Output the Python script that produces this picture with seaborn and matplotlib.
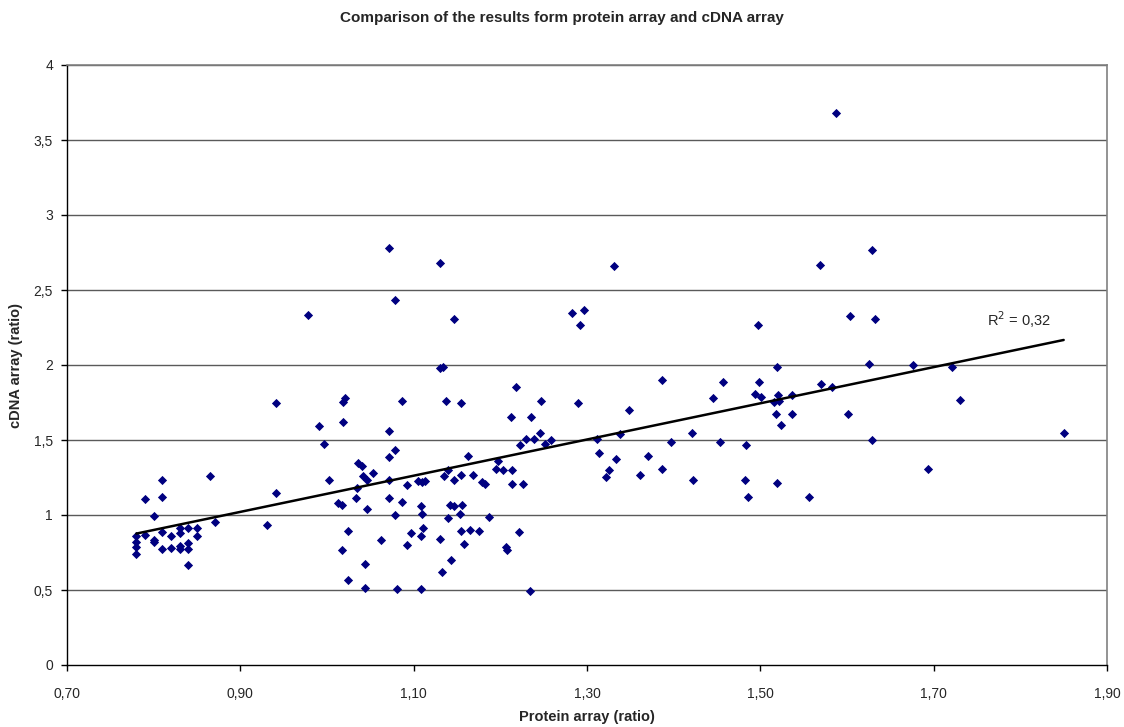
import numpy as np
import pandas as pd
import matplotlib
matplotlib.use("Agg")
import matplotlib.pyplot as plt
import seaborn as sns

# values
protein = [
    0.780, 0.780, 0.780, 0.780, 0.790, 0.790, 0.800, 0.800, 0.800, 0.810,
    0.810, 0.810, 0.810, 0.820, 0.820, 0.830, 0.830, 0.830, 0.830, 0.840,
    0.840, 0.840, 0.840, 0.850, 0.850, 0.865, 0.871, 0.931, 0.941, 0.941,
    0.978, 1.072, 1.079, 1.130, 1.147, 1.130, 1.134, 1.218, 1.283, 1.296,
    1.292,
    0.991, 0.996, 1.018, 1.021, 1.018, 1.086, 1.137, 1.155, 1.072, 1.078,
    1.072, 1.002, 1.036, 1.040, 1.053, 1.042, 1.046, 1.035, 1.071, 1.092,
    1.105, 1.110, 1.113, 1.135, 1.140, 1.147, 1.155, 1.163, 1.168, 1.179,
    1.182, 1.195, 1.197, 1.013, 1.017, 1.033, 1.046, 1.071, 1.086, 1.079,
    1.108, 1.110, 1.142, 1.147, 1.156, 1.154, 1.140, 1.187, 1.024, 1.097,
    1.111, 1.108, 1.130, 1.155, 1.165, 1.175, 1.158, 1.092, 1.062, 1.017,
    1.044, 1.143, 1.133, 1.024, 1.044, 1.081, 1.108,
    1.247, 1.290, 1.349, 1.387, 1.212, 1.235, 1.246, 1.230, 1.239, 1.223,
    1.252, 1.258, 1.203, 1.214, 1.214, 1.226, 1.312, 1.314, 1.338, 1.334,
    1.325, 1.322, 1.370, 1.361, 1.386, 1.397, 1.221, 1.206, 1.208, 1.234,
    1.331, 1.569, 1.629, 1.497, 1.604, 1.632, 1.519, 1.625, 1.457, 1.499,
    1.570, 1.583, 1.445, 1.494, 1.501, 1.520, 1.536, 1.516, 1.522, 1.518,
    1.537, 1.601, 1.524, 1.421, 1.453, 1.484, 1.629, 1.422, 1.482, 1.519,
    1.486, 1.556,
    1.587, 1.676, 1.721, 1.730, 1.850, 1.693,
]
cdna = [
    0.862, 0.822, 0.789, 0.738, 1.109, 0.867, 0.991, 0.833, 0.818, 1.233,
    1.122, 0.889, 0.771, 0.862, 0.780, 0.911, 0.882, 0.793, 0.771, 0.911,
    0.813, 0.771, 0.669, 0.911, 0.862, 1.260, 0.951, 0.931, 1.144, 1.747,
    2.336, 2.778, 2.433, 2.682, 2.309, 1.978, 1.984, 1.856, 2.344, 2.364,
    2.267,
    1.593, 1.476, 1.756, 1.778, 1.620, 1.758, 1.758, 1.747, 1.558, 1.433,
    1.387, 1.236, 1.349, 1.324, 1.282, 1.262, 1.236, 1.178, 1.236, 1.200,
    1.229, 1.222, 1.229, 1.262, 1.302, 1.233, 1.269, 1.391, 1.269, 1.220,
    1.204, 1.309, 1.360, 1.082, 1.067, 1.116, 1.040, 1.111, 1.089, 1.000,
    1.062, 1.004, 1.067, 1.062, 1.067, 1.004, 0.978, 0.987, 0.896, 0.882,
    0.911, 0.862, 0.840, 0.896, 0.902, 0.896, 0.807, 0.800, 0.833, 0.764,
    0.676, 0.702, 0.620, 0.567, 0.516, 0.509, 0.509,
    1.758, 1.744, 1.702, 1.900, 1.656, 1.656, 1.544, 1.509, 1.509, 1.467,
    1.476, 1.502, 1.302, 1.302, 1.204, 1.204, 1.509, 1.413, 1.538, 1.371,
    1.302, 1.253, 1.391, 1.269, 1.309, 1.489, 0.887, 0.784, 0.764, 0.491,
    2.660, 2.667, 2.767, 2.267, 2.329, 2.309, 1.984, 2.004, 1.889, 1.889,
    1.873, 1.853, 1.778, 1.807, 1.784, 1.798, 1.800, 1.756, 1.762, 1.676,
    1.676, 1.676, 1.600, 1.544, 1.489, 1.469, 1.502, 1.233, 1.233, 1.213,
    1.118, 1.118,
    3.680, 1.998, 1.984, 1.764, 1.544, 1.309,
]
x_ticks = [0.70, 0.90, 1.10, 1.30, 1.50, 1.70, 1.90]
y_ticks = [0, 0.5, 1, 1.5, 2, 2.5, 3, 3.5, 4]

df = pd.DataFrame({"Protein": protein, "cDNA": cdna})

sns.set_style("white")
plt.rcParams["font.family"] = ["Liberation Sans", "DejaVu Sans"]

fig = plt.figure(figsize=(11.24, 7.27), dpi=100)
ax = fig.add_axes([67 / 1124, 62 / 727, 1040 / 1124, 600 / 727])

# horizontal grid lines
for yv in y_ticks[1:]:
    ax.axhline(yv, color="#5a5a5a", lw=1, zorder=1)

sns.scatterplot(data=df, x="Protein", y="cDNA", marker="D", s=22,
                color="#000080", edgecolor="#000080", linewidth=0, ax=ax, zorder=3)

# linear trend line
slope, inter = np.polyfit(df["Protein"], df["cDNA"], 1)
pred = slope * df["Protein"] + inter
r2 = 1 - ((df["cDNA"] - pred) ** 2).sum() / ((df["cDNA"] - df["cDNA"].mean()) ** 2).sum()
print(slope, inter, r2)
xs = np.array([df["Protein"].min(), df["Protein"].max()])
ax.plot(xs, slope * xs + inter, color="black", lw=1.8, zorder=4)
ax.text(1.762, 2.30, "R$^2$ = " + f"{r2:.2f}".replace(".", ","), fontsize=10.5,
        va="center", ha="left")

ax.set_xlim(0.70, 1.90)
ax.set_ylim(0, 4)
ax.set_xticks(x_ticks)
ax.set_xticklabels([f"{v:.2f}".replace(".", ",") for v in x_ticks], fontsize=10)
ax.set_yticks(y_ticks)
ax.set_yticklabels([f"{v:g}".replace(".", ",") for v in y_ticks], fontsize=10)
ax.tick_params(axis="both", direction="out", length=4, width=1, color="black",
               bottom=True, left=True, pad=12)
ax.tick_params(axis="y", pad=6)

for side in ["top", "right"]:
    ax.spines[side].set_color("#808080")
    ax.spines[side].set_linewidth(1.2)
for side in ["left", "bottom"]:
    ax.spines[side].set_color("black")
    ax.spines[side].set_linewidth(1)

ax.set_xlabel("Protein array (ratio)", fontsize=10.5, fontweight="bold", labelpad=6)
ax.set_ylabel("cDNA array (ratio)", fontsize=10.5, fontweight="bold", labelpad=8)
fig.text(0.5, 1 - 18 / 727, "Comparison of the results form protein array and cDNA array",
         ha="center", va="center", fontsize=11, fontweight="bold")

fig.savefig("out.png", dpi=100)
